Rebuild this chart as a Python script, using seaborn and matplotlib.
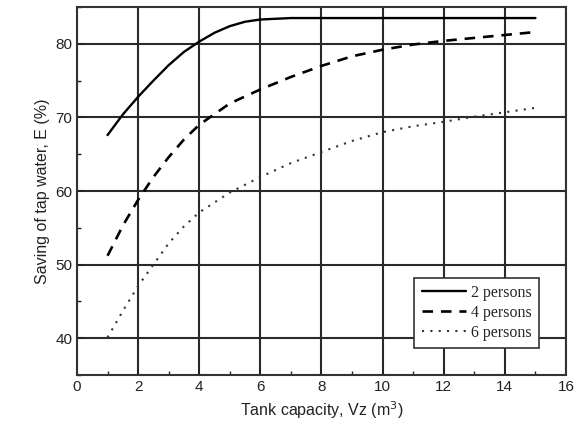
import matplotlib
matplotlib.use("Agg")
import matplotlib.pyplot as plt
import seaborn as sns
import pandas as pd
from matplotlib.ticker import MultipleLocator

x2 = [1, 1.5, 2, 2.5, 3, 3.5, 4, 4.5, 5, 5.5, 6, 7, 8, 9, 10, 11, 12, 13, 14, 15]
y2 = [67.6, 70.4, 72.8, 75.0, 77.1, 78.9, 80.3, 81.5, 82.4, 83.0, 83.3, 83.5, 83.5, 83.5, 83.5, 83.5, 83.5, 83.5, 83.5, 83.5]
x4 = [1, 1.5, 2, 2.5, 3, 3.5, 4, 5, 6, 7, 8, 9, 10, 11, 12, 13, 14, 15]
y4 = [51.2, 55.3, 58.8, 61.9, 64.6, 67.0, 69.0, 71.9, 73.8, 75.5, 77.0, 78.3, 79.2, 79.9, 80.4, 80.8, 81.2, 81.6]
x6 = [1, 1.5, 2, 2.5, 3, 3.5, 4, 5, 6, 7, 8, 9, 10, 11, 12, 13, 14, 15]
y6 = [40.1, 43.7, 47.1, 50.0, 52.9, 55.2, 57.1, 59.8, 61.9, 63.8, 65.3, 66.8, 68.0, 68.8, 69.4, 70.1, 70.7, 71.3]
labels = ["2 persons", "4 persons", "6 persons"]

sns.set_theme(style="white")
plt.rcParams['font.family'] = ['Liberation Sans', 'DejaVu Sans']

fig = plt.figure(figsize=(5.82, 4.38), dpi=100)
ax = fig.add_axes([0.1323, 0.1438, 0.8402, 0.8402])

styles = ["-", (0, (4, 3)), (0, (1, 3))]
widths = [1.7, 1.9, 1.5]
colors = ["black", "black", "#333333"]
for xs, ys, lab, ls, lw, c in zip([x2, x4, x6], [y2, y4, y6], labels, styles, widths, colors):
    df = pd.DataFrame({"x": xs, "y": ys})
    sns.lineplot(data=df, x="x", y="y", ax=ax, color=c, label=lab, linewidth=lw)
    ax.lines[-1].set_linestyle(ls)

ax.set_xlim(0, 16)
ax.set_ylim(35, 85)
ax.xaxis.set_major_locator(MultipleLocator(2))
ax.xaxis.set_minor_locator(MultipleLocator(1))
ax.yaxis.set_major_locator(MultipleLocator(10))
ax.yaxis.set_minor_locator(MultipleLocator(5))
ax.grid(True, which="major", color="#2a2a2a", linewidth=1.5)
ax.set_axisbelow(True)
ax.tick_params(which="both", direction="in", colors="#222222", labelcolor="#222222",
               labelsize=11, bottom=True, left=True)
ax.tick_params(which="major", length=4, width=1.2)
ax.tick_params(which="minor", length=3, width=1.0)
for s in ax.spines.values():
    s.set_color("#333333")
    s.set_linewidth(1.5)

ax.set_xlabel("Tank capacity, Vz (m$^3$)", fontsize=11.5, color="#222222")
ax.set_ylabel("Saving of tap water, E (%)", fontsize=11.5, color="#222222")

leg = ax.legend(loc="lower right", bbox_to_anchor=(0.945, 0.073), borderaxespad=0,
                frameon=True, fancybox=False, edgecolor="#333333", framealpha=1,
                prop={"family": "Liberation Serif", "size": 11.5},
                handlelength=2.8, handletextpad=0.3, borderpad=0.45, labelspacing=0.25)
leg.get_frame().set_linewidth(1.2)

fig.savefig("out.png", dpi=100)
